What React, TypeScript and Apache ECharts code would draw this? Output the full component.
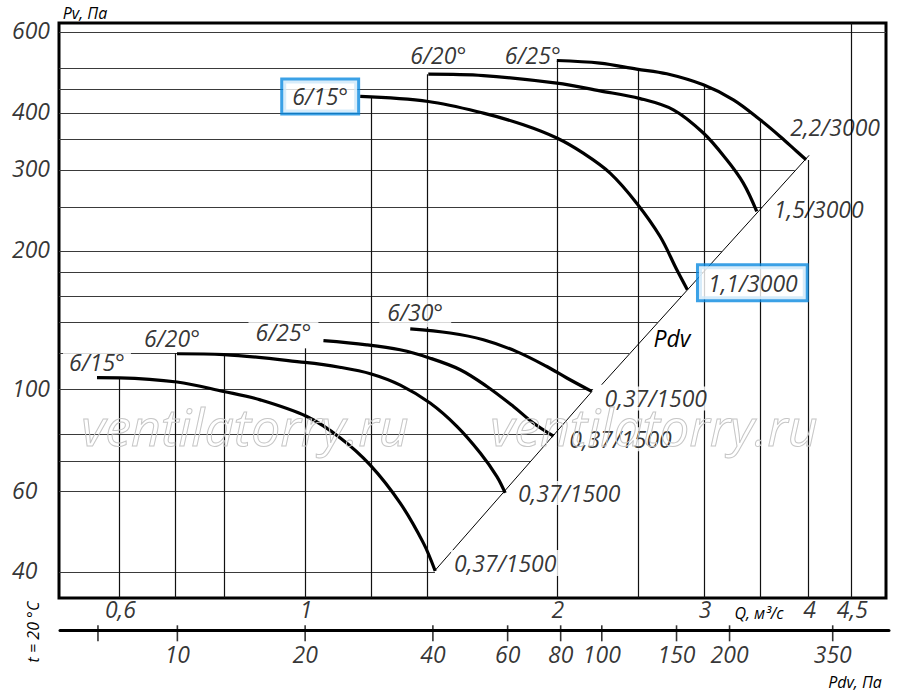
import React, { useEffect, useRef } from 'react';
import * as echarts from 'echarts';

const FONT = '"Open Sans", "DejaVu Sans", sans-serif';
const BLUE = '#0a8ae0';

// axis ranges
const Q_MIN = 0.508;
const Q_MAX = 4.95;
const P_MIN = 35.2;
const P_MAX = 628;
const PDV_MIN = 5.29;
const PDV_MAX = 475;

// tick labels
const qTicks = [0.6, 1, 2, 3, 4, 4.5];
const qTickLabels = ['0,6', '1', '2', '3', '4', '4,5'];
const pTicks = [600, 400, 300, 200, 100, 60, 40];
const pTickLabels = ['600', '400', '300', '200', '100', '60', '40'];
const pdvTicks = [6.5, 10, 20, 40, 60, 80, 100, 150, 200, 350];
const pdvTickLabels = ['', '10', '20', '40', '60', '80', '100', '150', '200', '350'];

// grid lines (clipped to the working envelope)
const hGridP = [600, 500, 450, 400, 350, 300, 250, 200, 180, 160, 140, 120, 100, 80, 70, 60, 40];
const hGridQEnd = [4.95, 2.47, 3.07, 3.41, 3.73, 3.85, 3.52, 3.15, 2.99, 2.82, 2.64, 2.44, 2.21, 1.99, 1.86, 1.73, 1.43];
const vGridQ = [0.6, 0.7, 0.8, 1.0, 1.2, 1.4, 2.0, 2.5, 3.0, 3.5, 4.0, 4.5];
const vGridPTop = [106, 120, 119, 123, 434, 486, 520, 499, 461, 388, 316, 628];

// fan curves  [Q m3/s, Pv Pa]
const lower15 = [[0.564, 106.2], [0.6, 106.1], [0.703, 103.9], [0.799, 99.1], [0.884, 95.0], [1.005, 87.4], [1.101, 78.6], [1.196, 68.6], [1.299, 56.7], [1.385, 46.4], [1.431, 40.3]];
const lower20 = [[0.703, 119.7], [0.8, 119.2], [1.0, 114.6], [1.1, 111.9], [1.2, 108.2], [1.3, 102.3], [1.411, 93.5], [1.519, 83.2], [1.62, 72.8], [1.696, 64.7], [1.735, 59.6]];
const lower25 = [[1.052, 127.8], [1.185, 125.2], [1.299, 122.1], [1.411, 117.1], [1.533, 110.5], [1.65, 101.6], [1.775, 91.9], [1.875, 84.6], [1.982, 79.2]];
const lower30 = [[1.336, 135.6], [1.491, 132.8], [1.634, 128.4], [1.791, 121.0], [1.946, 112.3], [2.056, 106.0], [2.202, 99.1]];
const upper15 = [[1.164, 434.6], [1.404, 423.8], [1.634, 399.8], [1.824, 377.1], [2.0, 352.9], [2.151, 327.1], [2.316, 296.0], [2.492, 254.6], [2.658, 215.4], [2.783, 182.3], [2.865, 165.0]];
const upper20 = [[1.404, 486.1], [1.634, 482.6], [2.0, 464.6], [2.252, 447.0], [2.516, 430.0], [2.757, 406.5], [2.994, 361.8], [3.193, 316.4], [3.342, 281.5], [3.468, 244.3]];
const upper25 = [[2.0, 520.4], [2.252, 513.6], [2.492, 498.5], [2.707, 486.9], [2.994, 460.7], [3.252, 427.3], [3.5, 386.7], [3.698, 355.7], [3.873, 329.8], [3.973, 316.4]];

// dynamic pressure line (Pdv)
const pdvLower = [[1.431, 40.45], [2.204, 99.2]];
const pdvUpper = [[2.263, 102.5], [4.006, 323.6]];

// curve labels
const curveNames = ['6/15°', '6/20°', '6/25°', '6/30°', '6/15°', '6/20°', '6/25°'];
const curveEnds = ['0,37/1500', '0,37/1500', '0,37/1500', '0,37/1500', '1,1/3000', '1,5/3000', '2,2/3000'];
const curves = [lower15, lower20, lower25, lower30, upper15, upper20, upper25];

const labelFont = { fontFamily: FONT, fontStyle: 'italic', fontSize: 23, lineHeight: 24, color: '#000' };

type LabelStyle = { offset: number[]; bg?: boolean; box?: boolean; pad?: number[] };
const startStyles: LabelStyle[] = [
  { offset: [0, -16], bg: true, pad: [2, 6, 0, 6] },
  { offset: [-5, -16] },
  { offset: [-40, -9], bg: true, pad: [1, 7, 0, 7] },
  { offset: [5, -17], bg: true, pad: [5, 8, 1, 8] },
  { offset: [-40, 0], box: true, pad: [4, 9, 4, 9] },
  { offset: [10, -19] },
  { offset: [-24, -6] },
];
const endStyles: LabelStyle[] = [
  { offset: [70, -8], bg: true, pad: [1, 3, 1, 3] },
  { offset: [64, 0], bg: true, pad: [0, 3, 0, 3] },
  { offset: [67, 3], bg: true, pad: [0, 3, 0, 3] },
  { offset: [64, 7], bg: true, pad: [0, 3, 0, 3] },
  { offset: [65, -7], box: true, pad: [5, 8, 4, 9] },
  { offset: [62, -2] },
  { offset: [29, -33] },
];

function labelItem(pt: number[], text: string, s: LabelStyle) {
  const label: any = {
    show: true,
    position: 'inside',
    formatter: text,
    offset: s.offset,
    ...labelFont,
  };
  if (s.bg || s.box) {
    label.backgroundColor = '#fff';
    label.padding = s.pad;
  }
  if (s.box) {
    label.borderColor = BLUE;
    label.borderWidth = 3;
  }
  return { value: pt, label };
}

const hiddenAxis = {
  axisLine: { show: false },
  axisTick: { show: false },
  axisLabel: { show: false },
  splitLine: { show: false },
  minorTick: { show: false },
  minorSplitLine: { show: false },
};

function buildOption() {
  const labelData: any[] = [];
  curves.forEach((c, i) => {
    labelData.push(labelItem(c[0], curveNames[i], startStyles[i]));
    labelData.push(labelItem(c[c.length - 1], curveEnds[i], endStyles[i]));
  });

  const series: any[] = [
    {
      type: 'lines',
      coordinateSystem: 'cartesian2d',
      xAxisIndex: 0,
      yAxisIndex: 0,
      silent: true,
      z: 1,
      lineStyle: { color: '#3a3a3a', width: 1.2, opacity: 1, type: 'solid' },
      data: hGridP.map((p, i) => ({ coords: [[Q_MIN, p], [hGridQEnd[i], p]] })),
    },
    {
      type: 'lines',
      coordinateSystem: 'cartesian2d',
      xAxisIndex: 0,
      yAxisIndex: 0,
      silent: true,
      z: 1,
      lineStyle: { color: '#111', width: 1.2, opacity: 1, type: 'solid' },
      data: vGridQ.map((q, i) => ({ coords: [[q, P_MIN], [q, vGridPTop[i]]] })),
    },
    ...[pdvLower, pdvUpper].map((d) => ({
      type: 'line',
      xAxisIndex: 0,
      yAxisIndex: 0,
      data: d,
      symbol: 'none',
      silent: true,
      z: 2,
      lineStyle: { color: '#000', width: 1 },
    })),
    ...curves.map((d) => ({
      type: 'line',
      xAxisIndex: 0,
      yAxisIndex: 0,
      data: d,
      smooth: 0.35,
      symbol: 'none',
      silent: true,
      z: 3,
      lineStyle: { color: '#000', width: 3.2, cap: 'butt' },
    })),
    {
      type: 'scatter',
      xAxisIndex: 0,
      yAxisIndex: 0,
      symbolSize: 0,
      clip: false,
      silent: true,
      z: 5,
      data: labelData,
    },
    // Pdv axis ticks and labels
    {
      type: 'scatter',
      xAxisIndex: 1,
      yAxisIndex: 1,
      symbol: 'rect',
      symbolSize: [1.6, 16],
      symbolOffset: [0, 2.6],
      itemStyle: { color: '#000' },
      clip: false,
      silent: true,
      data: pdvTicks.map((v, i) => ({
        value: [v, 0],
        label: { show: true, position: 'inside', offset: [0, 21], formatter: pdvTickLabels[i], ...labelFont },
      })),
    },
    // Q tick labels
    {
      type: 'scatter',
      xAxisIndex: 2,
      yAxisIndex: 2,
      symbolSize: 0,
      clip: false,
      silent: true,
      data: qTicks.map((v, i) => ({
        value: [v, 0.5],
        label: { show: true, position: 'inside', offset: [1, 0], formatter: qTickLabels[i], ...labelFont },
      })),
    },
    // P tick labels
    {
      type: 'scatter',
      xAxisIndex: 3,
      yAxisIndex: 3,
      symbolSize: 0,
      clip: false,
      silent: true,
      data: pTicks.map((v, i) => ({
        value: [0, v],
        label: { show: true, position: 'right', distance: 0, offset: [0, -2], formatter: pTickLabels[i], ...labelFont },
      })),
    },
  ];

  return {
    animation: false,
    backgroundColor: '#fff',
    grid: [
      { left: 59, right: 14, top: 23, bottom: 97, show: true, borderColor: '#000', borderWidth: 3, backgroundColor: 'rgba(0,0,0,0)' },
      { left: 60, right: 11, top: 620, height: 10.7 },
      { left: 59, right: 14, top: 598, height: 22 },
      { left: 12, width: 47, top: 23, bottom: 97 },
    ],
    xAxis: [
      { gridIndex: 0, type: 'log', logBase: 10, min: Q_MIN, max: Q_MAX, ...hiddenAxis },
      {
        gridIndex: 1, type: 'log', logBase: 10, min: PDV_MIN, max: PDV_MAX, ...hiddenAxis,
        axisLine: { show: true, onZero: false, lineStyle: { color: '#000', width: 3 } },
      },
      { gridIndex: 2, type: 'log', logBase: 10, min: Q_MIN, max: Q_MAX, ...hiddenAxis },
      { gridIndex: 3, type: 'value', min: 0, max: 1, ...hiddenAxis },
    ],
    yAxis: [
      { gridIndex: 0, type: 'log', logBase: 10, min: P_MIN, max: P_MAX, ...hiddenAxis },
      { gridIndex: 1, type: 'value', min: 0, max: 1, ...hiddenAxis },
      { gridIndex: 2, type: 'value', min: 0, max: 1, ...hiddenAxis },
      { gridIndex: 3, type: 'log', logBase: 10, min: P_MIN, max: P_MAX, ...hiddenAxis },
    ],
    graphic: [
      {
        type: 'text', x: 245, y: 425, z: 10, silent: true,
        style: { text: 'ventilatorry.ru', fill: 'rgba(255,255,255,0)', stroke: '#c6c6c6', lineWidth: 1, fontFamily: FONT, fontStyle: 'italic', fontSize: 52, align: 'center', verticalAlign: 'middle' },
      },
      {
        type: 'text', x: 654, y: 425, z: 10, silent: true,
        style: { text: 'ventilatorry.ru', fill: 'rgba(255,255,255,0)', stroke: '#c6c6c6', lineWidth: 1, fontFamily: FONT, fontStyle: 'italic', fontSize: 52, align: 'center', verticalAlign: 'middle' },
      },
      {
        type: 'text', x: 85, y: 12.5, silent: true,
        style: { text: 'Pv, Па', fill: '#000', fontFamily: FONT, fontStyle: 'italic', fontSize: 16, align: 'center', verticalAlign: 'middle' },
      },
      {
        type: 'text', x: 759, y: 613, silent: true,
        style: { text: 'Q, м³/с', fill: '#000', fontFamily: FONT, fontStyle: 'italic', fontSize: 16, align: 'center', verticalAlign: 'middle' },
      },
      {
        type: 'text', x: 855, y: 682, silent: true,
        style: { text: 'Pdv, Па', fill: '#000', fontFamily: FONT, fontStyle: 'italic', fontSize: 16, align: 'center', verticalAlign: 'middle' },
      },
      {
        type: 'text', x: 672, y: 338, silent: true, z: 6,
        style: { text: 'Pdv', fill: '#000', fontFamily: FONT, fontStyle: 'italic', fontSize: 23, align: 'center', verticalAlign: 'middle' },
      },
      {
        type: 'text', x: 33, y: 632, rotation: Math.PI / 2, silent: true,
        style: { text: 't = 20 °C', fill: '#000', fontFamily: FONT, fontStyle: 'italic', fontSize: 16, align: 'center', verticalAlign: 'middle' },
      },
    ],
    series,
  };
}

export default function App() {
  const ref = useRef<HTMLDivElement>(null);
  useEffect(() => {
    if (!ref.current) return;
    const chart = echarts.init(ref.current, null, { renderer: 'svg' });
    chart.setOption(buildOption() as any);
    return () => chart.dispose();
  }, []);
  return (
    <div
      ref={ref}
      style={{ position: 'absolute', left: 0, top: 0, width: 900, height: 695, background: '#fff' }}
    />
  );
}
